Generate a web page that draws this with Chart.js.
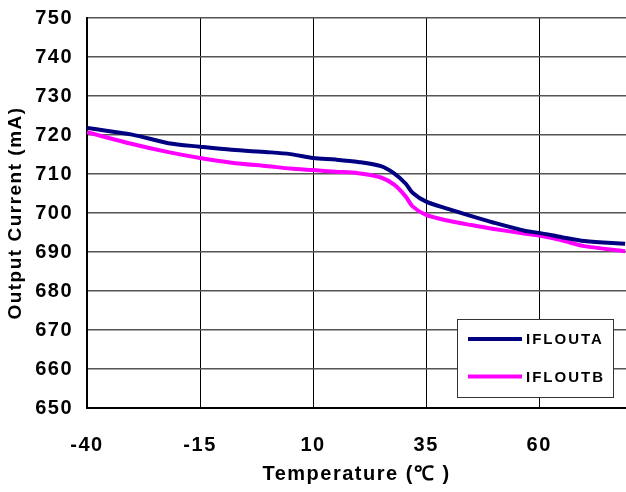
<!DOCTYPE html>
<html lang="en">
<head>
    <meta charset="UTF-8">
    <title>Output Current vs Temperature</title>
    <script src="https://cdn.jsdelivr.net/npm/chart.js@4.4.3/dist/chart.umd.min.js"></script>
    <style>
        html, body {
            margin: 0;
            padding: 0;
            background: #fff;
        }
        .wrap {
            width: 626px;
            height: 492px;
        }
    </style>
</head>
<body>
    <div class="wrap">
        <canvas id="curChart" width="626" height="492"></canvas>
    </div>

    <script>
        // measured output current per channel (mA) against ambient temperature (°C)
        const temps = [-40, -30, -22, -15, -8, 0, 5, 10, 15, 20, 25, 28, 30.5, 32, 35, 40, 45, 50, 57, 60, 65, 70, 79];
        const ifloutA = [721.8, 720.1, 717.9, 717.0, 716.2, 715.6, 715.1, 714.1, 713.7, 713.1, 712.0, 710.1, 707.5, 705.2, 702.9, 701.0, 699.2, 697.5, 695.4, 694.9, 693.8, 692.8, 692.1];
        const ifloutB = [720.7, 717.7, 715.6, 714.1, 712.9, 712.0, 711.4, 711.0, 710.6, 710.2, 709.1, 707.2, 704.2, 701.7, 699.5, 698.0, 696.9, 695.9, 694.7, 694.2, 693.0, 691.5, 690.2];
        const seriesNames = ['IFLOUTA', 'IFLOUTB'];
        const xTickValues = [-40, -15, 10, 35, 60];

        const FONT = 'Liberation Sans, Arial, sans-serif';

        function toPoints(vals) {
            return temps.map((t, i) => ({ x: t, y: vals[i] }));
        }

        // legend drawn as a framed box inside the plot, lower right
        const boxLegend = {
            id: 'boxLegend',
            afterDraw(chart) {
                const ctx = chart.ctx;
                const x0 = 457, y0 = 319, w = 156, h = 78;
                ctx.save();
                ctx.fillStyle = '#fff';
                ctx.fillRect(x0, y0, w, h);
                ctx.strokeStyle = '#333';
                ctx.lineWidth = 1;
                ctx.strokeRect(x0 + 0.5, y0 + 0.5, w, h);
                ctx.font = 'bold 15px ' + FONT;
                ctx.letterSpacing = '2px';
                ctx.textBaseline = 'middle';
                ctx.fillStyle = '#000';
                chart.data.datasets.forEach((ds, i) => {
                    const ly = y0 + 20 + i * 37.5;
                    ctx.strokeStyle = ds.borderColor;
                    ctx.lineWidth = 4;
                    ctx.beginPath();
                    ctx.moveTo(468, ly);
                    ctx.lineTo(522, ly);
                    ctx.stroke();
                    ctx.fillText(ds.label, 526, ly + 1);
                });
                ctx.restore();
            }
        };

        // wider character spacing for axis text
        const spacing = {
            id: 'spacing',
            beforeDraw(chart) {
                chart.ctx.letterSpacing = '1.5px';
            }
        };

        new Chart(document.getElementById('curChart'), {
            type: 'line',
            data: {
                datasets: [
                    {
                        label: seriesNames[0],
                        data: toPoints(ifloutA),
                        borderColor: '#000080',
                        borderWidth: 4,
                        pointRadius: 0,
                        tension: 0.3
                    },
                    {
                        label: seriesNames[1],
                        data: toPoints(ifloutB),
                        borderColor: '#ff00ff',
                        borderWidth: 4,
                        pointRadius: 0,
                        tension: 0.3
                    }
                ]
            },
            options: {
                responsive: false,
                animation: false,
                layout: { padding: { top: 18, right: 0, bottom: 0, left: 0 } },
                plugins: {
                    legend: { display: false },
                    tooltip: { enabled: false }
                },
                scales: {
                    x: {
                        type: 'linear',
                        min: -40,
                        max: 79.2,
                        afterBuildTicks: s => { s.ticks = xTickValues.map(v => ({ value: v })); },
                        afterFit: s => { s.height = 84; s.paddingLeft = 0; s.paddingRight = 0; },
                        grid: { color: '#000', lineWidth: 1, drawTicks: false },
                        border: { color: '#000', width: 2 },
                        ticks: {
                            padding: 25,
                            color: '#000',
                            maxRotation: 0,
                            font: { family: FONT, size: 20, weight: 'bold' }
                        },
                        title: {
                            display: true,
                            text: 'Temperature (\u2103 )',
                            color: '#000',
                            padding: { top: 0, bottom: 6 },
                            font: { family: FONT, size: 20, weight: 'bold' }
                        }
                    },
                    y: {
                        min: 650,
                        max: 750,
                        afterFit: s => { s.width = 87; s.paddingTop = 0; s.paddingBottom = 0; },
                        grid: { color: '#555', lineWidth: 1.5, drawTicks: false },
                        border: { color: '#000', width: 2 },
                        ticks: {
                            stepSize: 10,
                            padding: 14,
                            color: '#000',
                            font: { family: FONT, size: 20, weight: 'bold' }
                        },
                        title: {
                            display: true,
                            text: 'Output Current (mA)',
                            color: '#000',
                            padding: { top: 4, bottom: 0 },
                            font: { family: FONT, size: 19, weight: 'bold' }
                        }
                    }
                }
            },
            plugins: [spacing, boxLegend]
        });
    </script>
</body>
</html>
